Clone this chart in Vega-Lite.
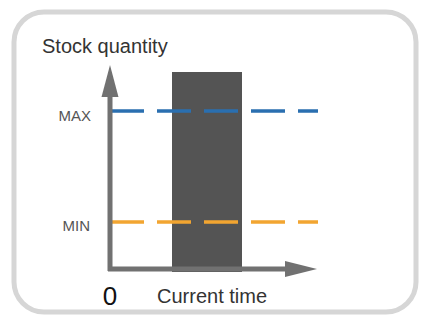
{
  "$schema": "https://vega.github.io/schema/vega-lite/v6.json",
  "width": 423,
  "height": 317,
  "padding": 0,
  "autosize": {"type": "none"},
  "background": "white",
  "config": {"view": {"stroke": null}},
  "layer": [
    {
      "data": {"values": [{"t0": -96, "t1": 306, "q0": 257, "q1": -43}]},
      "mark": {"type": "rect", "fill": "transparent", "stroke": "#d6d6d6", "strokeWidth": 5, "cornerRadius": 30},
      "encoding": {
        "x": {"field": "t0", "type": "quantitative", "scale": {"domain": [-110, 313]}, "axis": null},
        "x2": {"field": "t1"},
        "y": {"field": "q0", "type": "quantitative", "scale": {"domain": [-48, 269]}, "axis": null},
        "y2": {"field": "q1"}
      }
    },
    {
      "data": {"values": [{"period": "Current time", "start": 62, "end": 132, "top": 197, "bottom": -3}]},
      "mark": {"type": "rect", "color": "#545454"},
      "encoding": {
        "x": {"field": "start", "type": "quantitative", "scale": {"domain": [-110, 313]}, "axis": null},
        "x2": {"field": "end"},
        "y": {"field": "top", "type": "quantitative", "scale": {"domain": [-48, 269]}, "axis": null},
        "y2": {"field": "bottom"}
      }
    },
    {
      "data": {"values": [
        {"level": "MAX", "q": 158, "t0": 0, "t1": 208},
        {"level": "MIN", "q": 47, "t0": 0, "t1": 208}
      ]},
      "mark": {"type": "rule", "strokeDash": [34, 13], "strokeWidth": 3.5},
      "encoding": {
        "x": {"field": "t0", "type": "quantitative", "scale": {"domain": [-110, 313]}, "axis": null},
        "x2": {"field": "t1"},
        "y": {"field": "q", "type": "quantitative", "scale": {"domain": [-48, 269]}, "axis": null},
        "color": {"field": "level", "type": "nominal", "scale": {"domain": ["MAX", "MIN"], "range": ["#2a6fb0", "#f2a531"]}, "legend": null}
      }
    },
    {
      "data": {"values": [
        {"axis": "quantity", "t0": 0, "t1": 0, "q0": -2, "q1": 175},
        {"axis": "time", "t0": -2, "t1": 177, "q0": 0, "q1": 0}
      ]},
      "mark": {"type": "rule", "color": "#717171", "strokeWidth": 5},
      "encoding": {
        "x": {"field": "t0", "type": "quantitative", "scale": {"domain": [-110, 313]}, "axis": null},
        "x2": {"field": "t1"},
        "y": {"field": "q0", "type": "quantitative", "scale": {"domain": [-48, 269]}, "axis": null},
        "y2": {"field": "q1"}
      }
    },
    {
      "data": {"values": [{"t": 0, "q": 188}]},
      "mark": {"type": "point", "filled": true, "opacity": 1, "color": "#717171", "size": 1024, "shape": "M0,-1L0.53,1L-0.53,1Z"},
      "encoding": {
        "x": {"field": "t", "type": "quantitative", "scale": {"domain": [-110, 313]}, "axis": null},
        "y": {"field": "q", "type": "quantitative", "scale": {"domain": [-48, 269]}, "axis": null}
      }
    },
    {
      "data": {"values": [{"t": 191, "q": 0}]},
      "mark": {"type": "point", "filled": true, "opacity": 1, "color": "#717171", "size": 1024, "shape": "M1,0L-1,0.5L-1,-0.5Z"},
      "encoding": {
        "x": {"field": "t", "type": "quantitative", "scale": {"domain": [-110, 313]}, "axis": null},
        "y": {"field": "q", "type": "quantitative", "scale": {"domain": [-48, 269]}, "axis": null}
      }
    },
    {
      "data": {"values": [{"label": "Stock quantity", "t": -68, "q": 216}]},
      "mark": {"type": "text", "align": "left", "baseline": "alphabetic", "font": "Liberation Sans", "fontSize": 20, "color": "#333333"},
      "encoding": {
        "x": {"field": "t", "type": "quantitative", "scale": {"domain": [-110, 313]}, "axis": null},
        "y": {"field": "q", "type": "quantitative", "scale": {"domain": [-48, 269]}, "axis": null},
        "text": {"field": "label"}
      }
    },
    {
      "data": {"values": [{"label": "Current time", "t": 47, "q": -34}]},
      "mark": {"type": "text", "align": "left", "baseline": "alphabetic", "font": "Liberation Sans", "fontSize": 20, "color": "#333333"},
      "encoding": {
        "x": {"field": "t", "type": "quantitative", "scale": {"domain": [-110, 313]}, "axis": null},
        "y": {"field": "q", "type": "quantitative", "scale": {"domain": [-48, 269]}, "axis": null},
        "text": {"field": "label"}
      }
    },
    {
      "data": {"values": [{"label": "0", "t": 0, "q": -36}]},
      "mark": {"type": "text", "align": "center", "baseline": "alphabetic", "font": "Liberation Sans", "fontSize": 26, "color": "#111111"},
      "encoding": {
        "x": {"field": "t", "type": "quantitative", "scale": {"domain": [-110, 313]}, "axis": null},
        "y": {"field": "q", "type": "quantitative", "scale": {"domain": [-48, 269]}, "axis": null},
        "text": {"field": "label"}
      }
    },
    {
      "data": {"values": [
        {"label": "MAX", "t": -19, "q": 153},
        {"label": "MIN", "t": -20, "q": 43}
      ]},
      "mark": {"type": "text", "align": "right", "baseline": "middle", "font": "Liberation Sans", "fontSize": 15, "color": "#555555"},
      "encoding": {
        "x": {"field": "t", "type": "quantitative", "scale": {"domain": [-110, 313]}, "axis": null},
        "y": {"field": "q", "type": "quantitative", "scale": {"domain": [-48, 269]}, "axis": null},
        "text": {"field": "label"}
      }
    }
  ]
}
